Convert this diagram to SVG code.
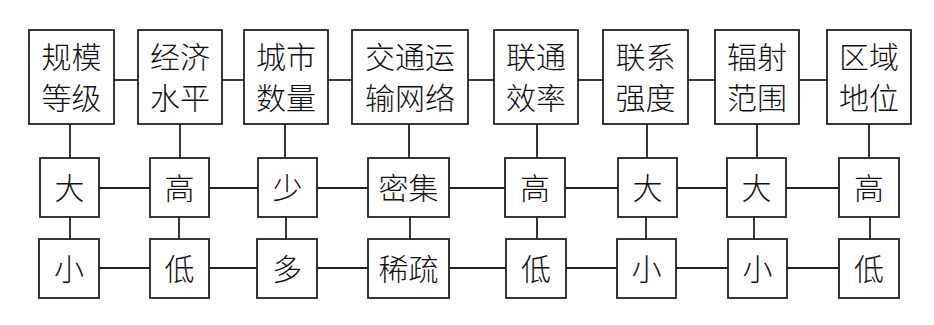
<svg xmlns="http://www.w3.org/2000/svg" width="934" height="325" viewBox="0 0 934 325">
<style>
rect{fill:#fff;stroke:#222;stroke-width:1.8}
line{stroke:#222;stroke-width:1.8}
text{font-family:"Noto Sans CJK SC","Noto Sans CJK JP",sans-serif;font-size:30px;font-weight:300;fill:#111;text-anchor:middle}
</style>
<rect x="0" y="0" width="934" height="325" style="fill:#fff;stroke:none"/>
<g id="connectors">
<line x1="114" y1="80" x2="138" y2="80"/>
<line x1="222" y1="80" x2="244" y2="80"/>
<line x1="328" y1="80" x2="352" y2="80"/>
<line x1="468" y1="80" x2="494" y2="80"/>
<line x1="578" y1="80" x2="603" y2="80"/>
<line x1="688" y1="80" x2="715" y2="80"/>
<line x1="799" y1="80" x2="827" y2="80"/>
<line x1="99" y1="188" x2="150" y2="188"/>
<line x1="209" y1="188" x2="258" y2="188"/>
<line x1="317" y1="188" x2="368" y2="188"/>
<line x1="449" y1="188" x2="505" y2="188"/>
<line x1="565" y1="188" x2="618" y2="188"/>
<line x1="677" y1="188" x2="727" y2="188"/>
<line x1="786" y1="188" x2="839" y2="188"/>
<line x1="99" y1="268" x2="150" y2="268"/>
<line x1="209" y1="268" x2="257" y2="268"/>
<line x1="317" y1="268" x2="368" y2="268"/>
<line x1="449" y1="268" x2="506" y2="268"/>
<line x1="566" y1="268" x2="617" y2="268"/>
<line x1="676" y1="268" x2="728" y2="268"/>
<line x1="787" y1="268" x2="839" y2="268"/>
<line x1="70" y1="124" x2="70" y2="158"/>
<line x1="180" y1="124" x2="180" y2="158"/>
<line x1="285" y1="124" x2="285" y2="158"/>
<line x1="409" y1="124" x2="409" y2="158"/>
<line x1="537" y1="124" x2="537" y2="158"/>
<line x1="647" y1="124" x2="647" y2="158"/>
<line x1="757" y1="124" x2="757" y2="158"/>
<line x1="869" y1="124" x2="869" y2="158"/>
<line x1="70" y1="217" x2="70" y2="239"/>
<line x1="179" y1="217" x2="179" y2="239"/>
<line x1="286" y1="217" x2="286" y2="239"/>
<line x1="410" y1="217" x2="410" y2="239"/>
<line x1="537" y1="217" x2="537" y2="239"/>
<line x1="646" y1="217" x2="646" y2="239"/>
<line x1="754" y1="217" x2="754" y2="239"/>
<line x1="870" y1="217" x2="870" y2="239"/>
</g>
<g id="t1"><rect x="29" y="30" width="85" height="94"/><text x="71.5" y="68">规模</text><text x="71.5" y="109">等级</text></g>
<g id="t2"><rect x="138" y="30" width="84" height="94"/><text x="180" y="68">经济</text><text x="180" y="109">水平</text></g>
<g id="t3"><rect x="244" y="30" width="84" height="94"/><text x="286" y="68">城市</text><text x="286" y="109">数量</text></g>
<g id="t4"><rect x="352" y="30" width="116" height="94"/><text x="410" y="68">交通运</text><text x="410" y="109">输网络</text></g>
<g id="t5"><rect x="494" y="30" width="84" height="94"/><text x="536" y="68">联通</text><text x="536" y="109">效率</text></g>
<g id="t6"><rect x="603" y="30" width="85" height="94"/><text x="645.5" y="68">联系</text><text x="645.5" y="109">强度</text></g>
<g id="t7"><rect x="715" y="30" width="84" height="94"/><text x="757" y="68">辐射</text><text x="757" y="109">范围</text></g>
<g id="t8"><rect x="827" y="30" width="84" height="94"/><text x="869" y="68">区域</text><text x="869" y="109">地位</text></g>
<g id="m1"><rect x="40" y="158" width="59" height="59"/><text x="69.5" y="198.5">大</text></g>
<g id="m2"><rect x="150" y="158" width="59" height="59"/><text x="179.5" y="198.5">高</text></g>
<g id="m3"><rect x="258" y="158" width="59" height="59"/><text x="287.5" y="198.5">少</text></g>
<g id="m4"><rect x="368" y="158" width="81" height="59"/><text x="408.5" y="198.5">密集</text></g>
<g id="m5"><rect x="505" y="158" width="60" height="59"/><text x="535" y="198.5">高</text></g>
<g id="m6"><rect x="618" y="158" width="59" height="59"/><text x="647.5" y="198.5">大</text></g>
<g id="m7"><rect x="727" y="158" width="59" height="59"/><text x="756.5" y="198.5">大</text></g>
<g id="m8"><rect x="839" y="158" width="60" height="59"/><text x="869" y="198.5">高</text></g>
<g id="b1"><rect x="39" y="239" width="60" height="59"/><text x="69" y="279.5">小</text></g>
<g id="b2"><rect x="150" y="239" width="59" height="59"/><text x="179.5" y="279.5">低</text></g>
<g id="b3"><rect x="257" y="239" width="60" height="59"/><text x="287" y="279.5">多</text></g>
<g id="b4"><rect x="368" y="239" width="81" height="59"/><text x="408.5" y="279.5">稀疏</text></g>
<g id="b5"><rect x="506" y="239" width="60" height="59"/><text x="536" y="279.5">低</text></g>
<g id="b6"><rect x="617" y="239" width="59" height="59"/><text x="646.5" y="279.5">小</text></g>
<g id="b7"><rect x="728" y="239" width="59" height="59"/><text x="757.5" y="279.5">小</text></g>
<g id="b8"><rect x="839" y="239" width="60" height="59"/><text x="869" y="279.5">低</text></g>
</svg>
